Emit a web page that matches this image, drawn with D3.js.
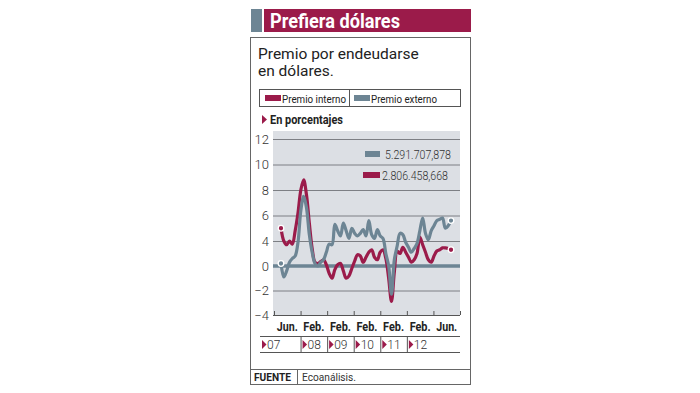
<!DOCTYPE html>
<html>
<head>
<meta charset="utf-8">
<script src="https://cdn.jsdelivr.net/npm/d3@7"></script>
<style>
  body { margin: 0; background: #fff; }
  svg { display: block; font-family: Roboto, "Open Sans", sans-serif; }
</style>
</head>
<body>
<svg width="700" height="393"></svg>
<script>
// datos (mensual, jun 2007 - jun 2012)
var interno = [5.0, 4.0, 3.4, 4.0, 3.5, 4.8, 6.2, 8.0, 8.8, 7.6, 5.4, 2.8, 0.6, 0.4, 0.7, 1.0, 0.2, -0.6, -1.0, -0.3,
               0.2, 0.4, -0.4, -1.0, -0.8, -0.2, 0.8, 1.8, 1.6, 0.6, 1.4, 2.2, 2.6, 1.4, 1.0, 2.2, 2.6, 1.2, -1.0, -2.9,
               -0.5, 2.4, 2.0, 3.0, 2.2, 1.4, 0.6, 1.0, 2.0, 4.3, 3.4, 2.2, 1.0, 0.6, 1.6, 2.4, 2.6, 2.9, 2.9, 2.8, 2.6];
var externo = [0.4, -0.9, -0.4, 0.6, 1.2, 1.6, 3.8, 6.4, 7.5, 6.6, 4.5, 2.2, 0.4, 0.0, 0.6, 1.0, 2.2, 3.5, 3.4, 5.3,
               4.8, 4.4, 5.4, 4.8, 4.2, 5.0, 4.6, 4.4, 4.6, 4.9, 4.4, 5.6, 4.5, 4.2, 4.9, 4.4, 4.2, 2.0, 0.0, -2.3,
               1.0, 3.2, 4.6, 4.5, 3.8, 3.0, 2.2, 2.8, 3.6, 4.8, 5.8, 4.6, 4.1, 4.8, 5.2, 5.6, 5.7, 5.8, 5.0, 5.2, 5.6];
var xLabels = ["Jun.", "Feb.", "Feb.", "Feb.", "Feb.", "Feb.", "Jun."];
var years = ["07", "08", "09", "10", "11", "12"];
var yTicks = [12, 10, 8, 6, 4, 0, -2, -4];
var seriesNames = ["Premio interno", "Premio externo"];
var totals = ["5.291.707,878", "2.806.458,668"];

var rojo = "#9b1b4a", gris = "#6d8594";

var svg = d3.select("svg");

// titulo
svg.append("rect").attr("x", 251).attr("y", 9).attr("width", 11).attr("height", 23).attr("fill", gris);
svg.append("rect").attr("x", 264).attr("y", 9).attr("width", 207).attr("height", 23).attr("fill", rojo);
svg.append("text").attr("x", 270).attr("y", 28)
    .attr("font-size", 20).attr("font-weight", "bold").attr("fill", "#fff")
    .attr("textLength", 130).attr("lengthAdjust", "spacingAndGlyphs")
    .text("Prefiera dólares");

// marco
svg.append("rect").attr("x", 250.5).attr("y", 37.5).attr("width", 220).attr("height", 347)
    .attr("fill", "none").attr("stroke", "#666");
svg.append("line").attr("x1", 250).attr("x2", 470).attr("y1", 369.5).attr("y2", 369.5).attr("stroke", "#666");
svg.append("line").attr("x1", 297.5).attr("x2", 297.5).attr("y1", 369.5).attr("y2", 384.5).attr("stroke", "#666");
svg.append("text").attr("x", 254).attr("y", 381).attr("font-size", 11).attr("font-weight", "bold")
    .attr("fill", "#222").attr("textLength", 37).attr("lengthAdjust", "spacingAndGlyphs").text("FUENTE");
svg.append("text").attr("x", 302).attr("y", 381).attr("font-size", 11).attr("fill", "#333")
    .attr("textLength", 54).attr("lengthAdjust", "spacingAndGlyphs").text("Ecoanálisis.");

// subtitulo
svg.selectAll(".sub").data(["Premio por endeudarse", "en dólares."]).enter().append("text")
    .attr("x", 258).attr("y", function(d, i) { return 59 + i * 17; })
    .attr("font-size", 15.5).attr("fill", "#222").text(function(d) { return d; });

// leyenda
svg.append("rect").attr("x", 259.5).attr("y", 89.5).attr("width", 201).attr("height", 17)
    .attr("fill", "none").attr("stroke", "#555");
svg.append("line").attr("x1", 349.5).attr("x2", 349.5).attr("y1", 89.5).attr("y2", 106.5).attr("stroke", "#555");
var leg = svg.selectAll(".leg").data(seriesNames).enter().append("g")
    .attr("transform", function(d, i) { return "translate(" + (i ? 354 : 265) + ",0)"; });
leg.append("rect").attr("y", 95).attr("width", 16).attr("height", 6)
    .attr("fill", function(d, i) { return i ? gris : rojo; });
leg.append("text").attr("x", 17).attr("y", 102.5).attr("font-size", 11).attr("fill", "#222")
    .attr("textLength", function(d, i) { return i ? 66 : 64; }).attr("lengthAdjust", "spacingAndGlyphs")
    .text(function(d) { return d; });

// en porcentajes
svg.append("path").attr("d", "M262,115L267,119.5L262,124Z").attr("fill", rojo);
svg.append("text").attr("x", 270).attr("y", 124).attr("font-size", 12).attr("font-weight", "bold")
    .attr("fill", "#222").attr("textLength", 73).attr("lengthAdjust", "spacingAndGlyphs")
    .text("En porcentajes");

// escalas
var x = d3.scaleLinear().domain([0, interno.length - 1]).range([281, 451]);
var xb = d3.scaleLinear().domain([0, xLabels.length]).range([274, 460]);
var y = d3.scaleLinear().domain([-4, 0, 4, 12]).range([315, 266, 241, 139]);

svg.append("rect").attr("x", 273).attr("y", 131).attr("width", 187).attr("height", 184).attr("fill", "#dcdfe4");

// rejilla
svg.append("g").selectAll("line").data(yTicks.filter(function(d) { return d !== 0 && d !== -4; }))
  .enter().append("line")
    .attr("x1", 273).attr("x2", 460)
    .attr("y1", function(d) { return y(d) + 0.5; }).attr("y2", function(d) { return y(d) + 0.5; })
    .attr("stroke", "#7d7f84").attr("stroke-width", 1);

var yAxis = svg.append("g").attr("transform", "translate(269,0)")
    .call(d3.axisLeft(y).tickValues(yTicks).tickSize(0).tickPadding(0));
yAxis.select(".domain").remove();
yAxis.selectAll("text").attr("font-size", 13).attr("fill", "#333").attr("font-family", "Roboto, sans-serif")
    .attr("font-weight", 300);

// eje x
var xAxis = svg.append("g").attr("transform", "translate(0,315)")
    .call(d3.axisTop(xb).tickValues(d3.range(xLabels.length + 1)).tickSize(4).tickFormat(""));
xAxis.select(".domain").attr("stroke", "#555").attr("d", "M273,0.5H460");
xAxis.selectAll(".tick line").attr("stroke", "#555");
svg.append("g").selectAll("text").data(xLabels).enter().append("text")
    .attr("x", function(d, i) { return xb(i + 0.5) - 10.5; }).attr("y", 331)
    .attr("font-size", 12).attr("font-weight", "bold").attr("fill", "#222")
    .attr("textLength", 21).attr("lengthAdjust", "spacingAndGlyphs")
    .text(function(d) { return d; });

// fila de anios
svg.append("g").selectAll("line").data([336.5, 352.5]).enter().append("line")
    .attr("x1", 260).attr("x2", 460).attr("y1", function(d) { return d; }).attr("y2", function(d) { return d; })
    .attr("stroke", "#555");
var yr = svg.append("g").selectAll("g").data(years).enter().append("g")
    .attr("transform", function(d, i) { return "translate(" + (i ? xb(i) : 260) + ",0)"; });
yr.filter(function(d, i) { return i > 0; }).append("line")
    .attr("x1", 0.5).attr("x2", 0.5).attr("y1", 336.5).attr("y2", 352.5).attr("stroke", "#555");
yr.append("path").attr("d", "M2,340L6.5,344.5L2,349Z").attr("fill", rojo);
yr.append("text").attr("x", 7).attr("y", 349).attr("font-size", 12).attr("fill", "#333")
    .attr("font-weight", 300)
    .text(function(d) { return d; });

// linea cero
svg.append("line").attr("x1", 273).attr("x2", 460).attr("y1", y(0)).attr("y2", y(0))
    .attr("stroke", gris).attr("stroke-width", 3.5);

// series
var line = d3.line()
    .x(function(d, i) { return x(i); })
    .y(function(d) { return y(d); })
    .curve(d3.curveCatmullRom);

[[interno, rojo], [externo, gris]].forEach(function(s) {
  svg.append("path").datum(s[0]).attr("d", line)
      .attr("fill", "none").attr("stroke", s[1]).attr("stroke-width", 3.2)
      .attr("stroke-linejoin", "round").attr("stroke-linecap", "round");
  var ends = [0, s[0].length - 1];
  svg.append("g").selectAll("circle").data(ends).enter().append("circle")
      .attr("cx", function(i) { return x(i); }).attr("cy", function(i) { return y(s[0][i]); })
      .attr("r", 2.8).attr("fill", s[1]).attr("stroke", "#fff").attr("stroke-width", 1.3);
});

// leyenda interna
var tot = svg.append("g").selectAll("g").data(totals).enter().append("g")
    .attr("transform", function(d, i) { return "translate(0," + (i * 21) + ")"; });
tot.append("rect").attr("x", function(d, i) { return i ? 363 : 365; }).attr("y", 151)
    .attr("width", function(d, i) { return i ? 17 : 15; }).attr("height", 6)
    .attr("fill", function(d, i) { return i ? rojo : gris; });
tot.append("text").attr("x", function(d, i) { return i ? 382 : 385; }).attr("y", 158.5)
    .attr("font-size", 12).attr("fill", "#333").attr("font-weight", 300)
    .attr("textLength", 66).attr("lengthAdjust", "spacingAndGlyphs")
    .text(function(d) { return d; });
</script>
</body>
</html>
